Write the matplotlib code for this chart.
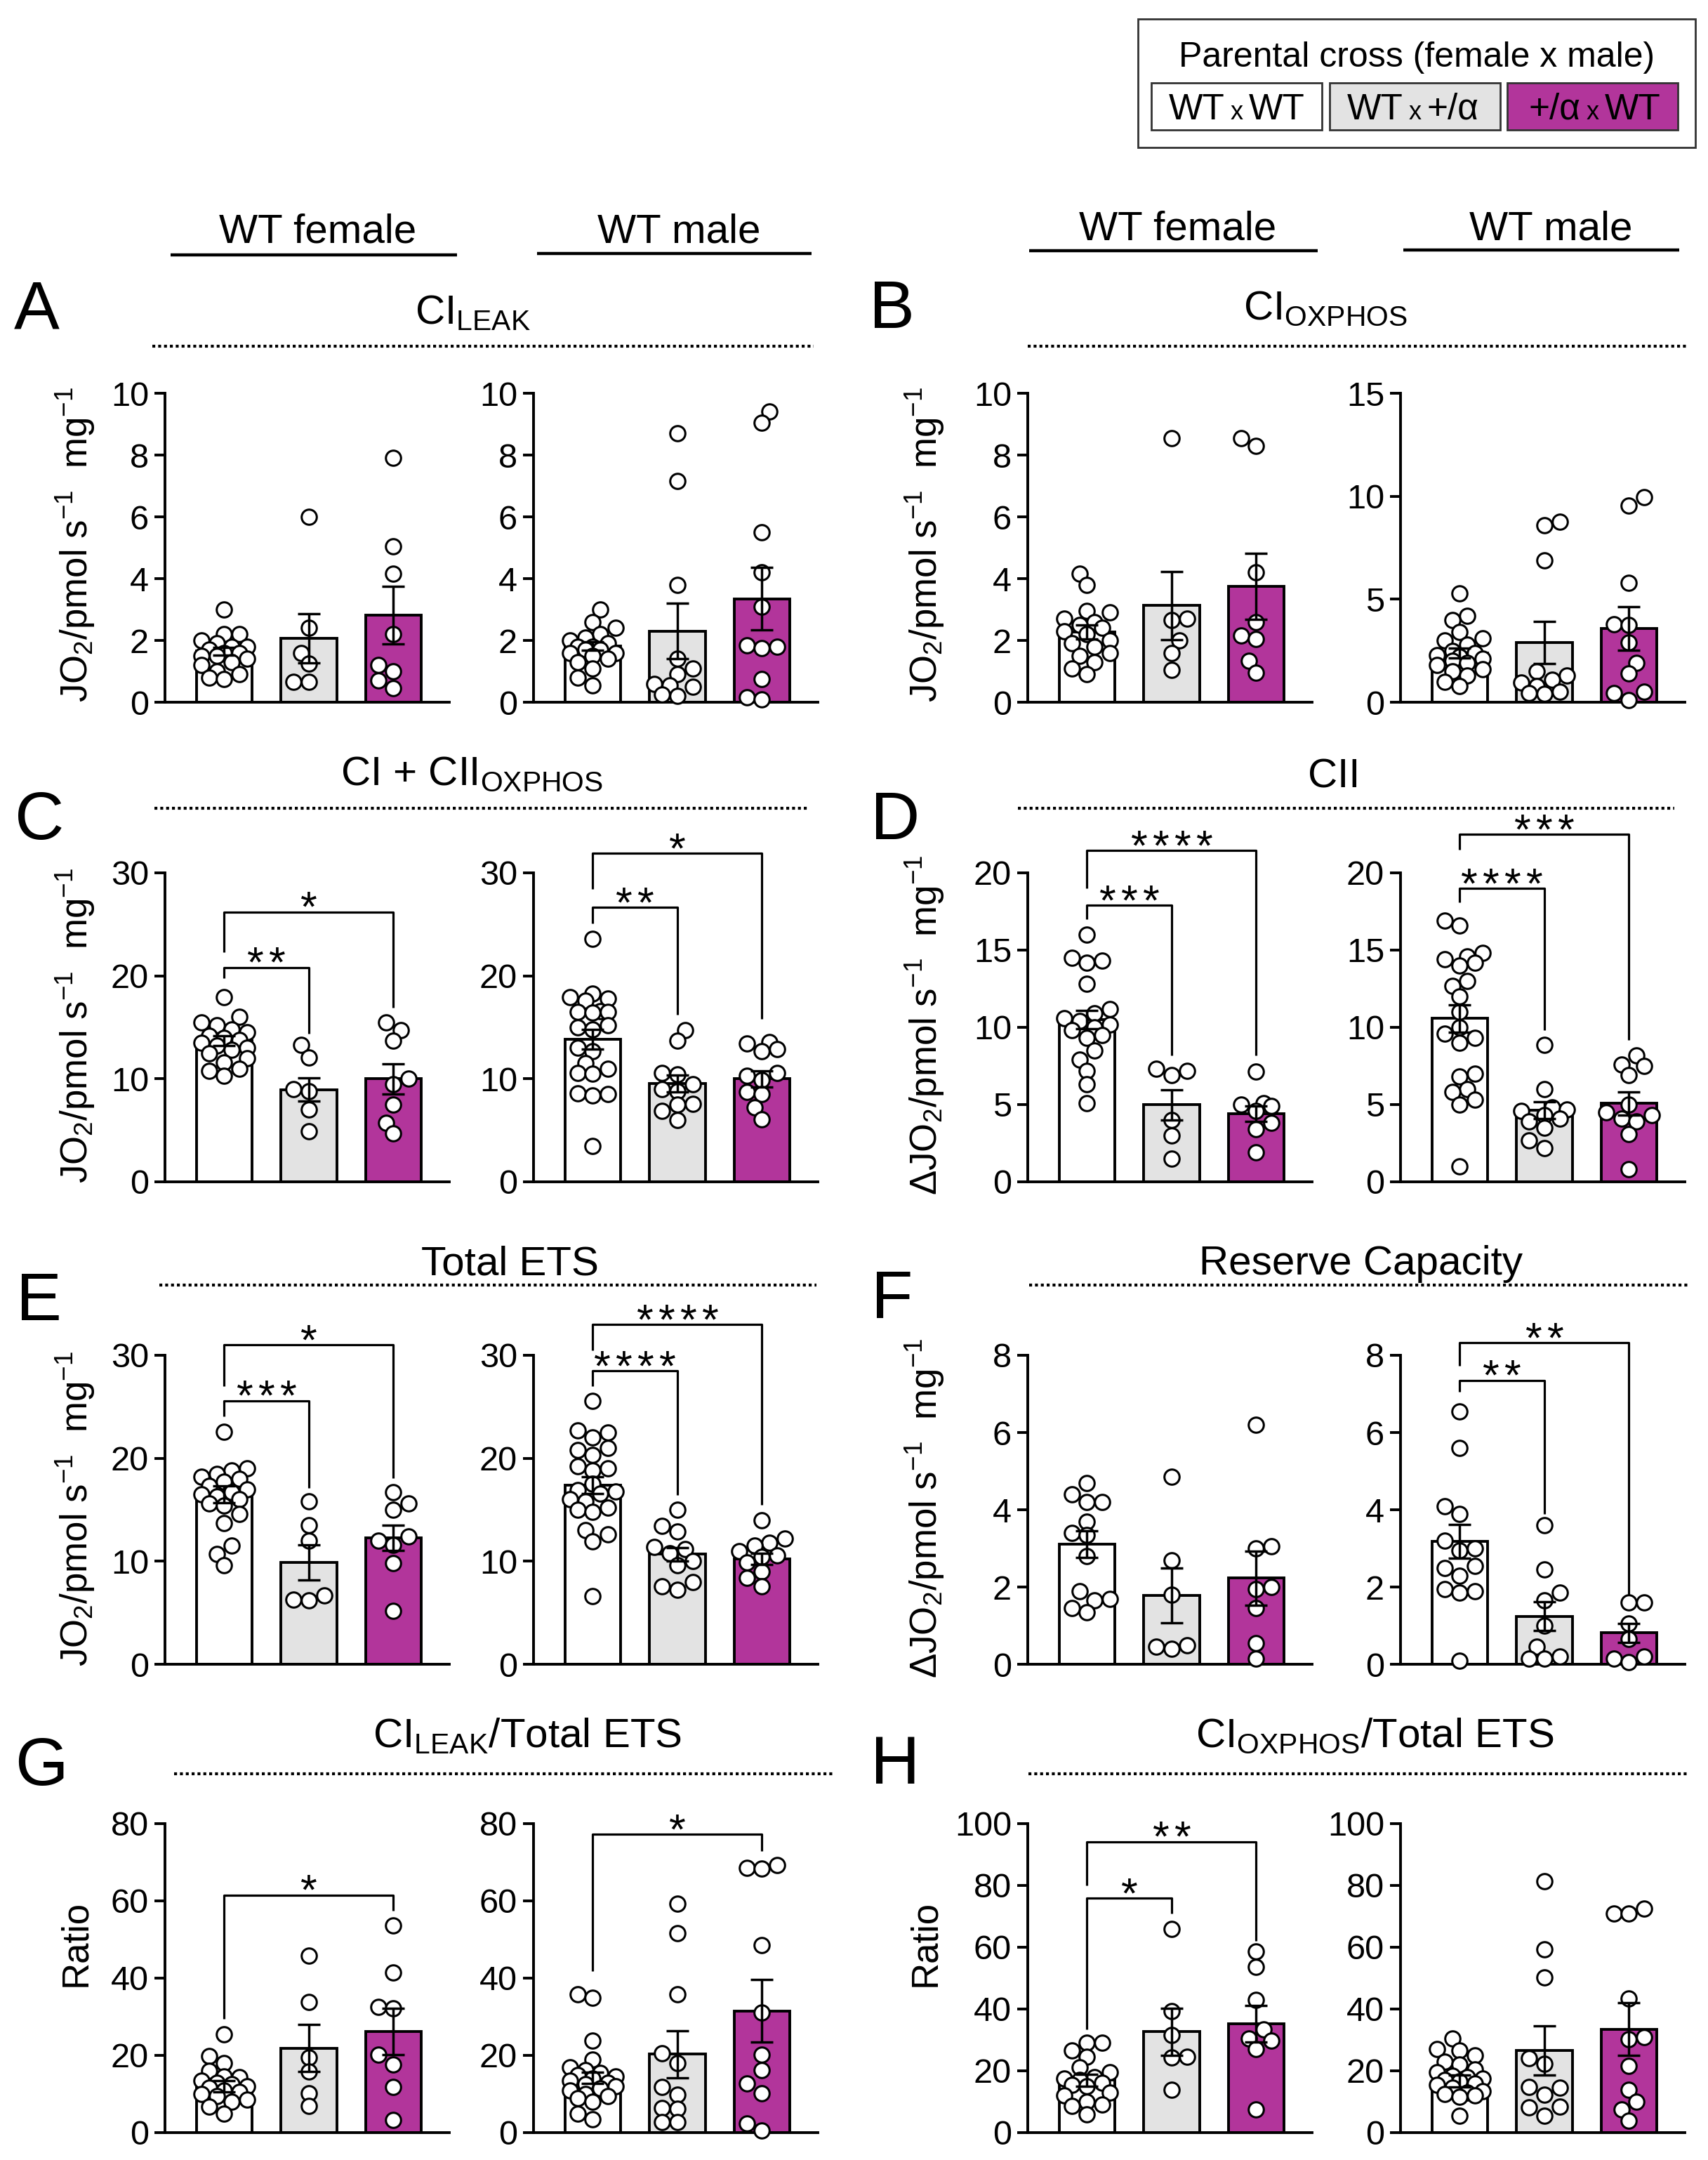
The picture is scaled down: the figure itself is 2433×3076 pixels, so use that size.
import numpy as np
import matplotlib
matplotlib.use('Agg')
import matplotlib.pyplot as plt
from matplotlib.patches import Rectangle

plt.rcParams['font.family'] = ['Liberation Sans', 'DejaVu Sans']
plt.rcParams['mathtext.fontset'] = 'custom'
plt.rcParams['mathtext.rm'] = 'Liberation Sans'
plt.rcParams['mathtext.it'] = 'Liberation Sans:italic'
plt.rcParams['mathtext.bf'] = 'Liberation Sans:bold'

# ------------------------------------------------------------------ data
groups = ['WT x WT', 'WT x +/α', '+/α x WT']
group_colors = ['#FFFFFF', '#E3E3E3', '#B2359B']
sexes = ['WT female', 'WT male']

A_female_points = [
    [3.0, 2.2, 2.2, 2.0, 1.9, 1.8, 1.8, 1.7, 1.6, 1.6, 1.5, 1.5, 1.4, 1.3, 1.2, 1.0, 0.9, 0.8, 0.75],
    [6.0, 2.4, 1.6, 1.25, 0.65, 0.65],
    [7.9, 5.05, 4.15, 2.2, 1.2, 1.0, 0.7, 0.45]]
A_female_mean = [1.65, 2.07, 2.81]
A_female_sem = [0.12, 0.8, 0.93]
A_male_points = [
    [3.0, 2.6, 2.4, 2.2, 2.1, 2.0, 1.9, 1.8, 1.8, 1.7, 1.7, 1.6, 1.6, 1.5, 1.4, 1.3, 1.1, 0.8, 0.55],
    [8.7, 7.15, 3.8, 1.4, 1.1, 0.9, 0.6, 0.55, 0.5, 0.25, 0.2],
    [9.4, 9.05, 5.5, 4.2, 3.1, 1.85, 1.8, 1.75, 0.75, 0.15, 0.1]]
A_male_mean = [1.82, 2.3, 3.35]
A_male_sem = [0.14, 0.9, 1.02]

B_female_points = [
    [4.15, 3.8, 2.95, 2.9, 2.7, 2.6, 2.5, 2.4, 2.3, 2.2, 2.0, 1.9, 1.8, 1.6, 1.5, 1.3, 1.1, 0.9],
    [8.55, 2.7, 2.65, 2.0, 1.6, 1.05],
    [8.55, 8.3, 4.2, 2.6, 2.15, 2.05, 1.35, 0.95]]
B_female_mean = [2.27, 3.13, 3.75]
B_female_sem = [0.22, 1.1, 1.06]
B_male_points = [
    [5.3, 4.2, 4.0, 3.4, 3.1, 3.0, 2.8, 2.5, 2.4, 2.3, 2.2, 2.1, 2.0, 1.9, 1.8, 1.6, 1.5, 1.3, 1.0, 0.8],
    [8.75, 8.6, 6.9, 1.5, 1.3, 1.1, 0.95, 0.8, 0.5, 0.45, 0.4],
    [9.95, 9.55, 5.8, 3.8, 3.75, 2.9, 1.9, 1.4, 0.5, 0.45, 0.1]]
B_male_mean = [2.39, 2.9, 3.58]
B_male_sem = [0.25, 1.02, 1.05]

C_female_points = [
    [17.9, 16.0, 15.5, 15.2, 14.8, 14.5, 14.2, 14.0, 13.8, 13.5, 13.2, 13.0, 12.8, 12.5, 12.0, 11.6, 11.0, 10.8, 10.3],
    [13.3, 12.1, 9.0, 8.8, 7.0, 4.9],
    [15.5, 14.7, 13.7, 10.0, 9.5, 7.5, 5.7, 4.7]]
C_female_mean = [13.7, 8.95, 9.99]
C_female_sem = [0.5, 1.14, 1.48]
C_male_points = [
    [23.6, 18.3, 17.9, 17.8, 17.6, 16.6, 16.5, 16.5, 16.4, 15.2, 15.0, 14.8, 13.0, 12.7, 11.5, 11.0, 10.6, 10.5, 8.6, 8.5, 8.4, 3.5],
    [14.7, 13.7, 10.6, 10.4, 9.5, 9.0, 8.8, 7.6, 7.5, 6.9, 6.0],
    [13.6, 13.4, 12.9, 12.7, 10.6, 10.3, 9.9, 8.7, 8.5, 7.2, 6.1]]
C_male_mean = [13.85, 9.55, 10.0]
C_male_sem = [0.95, 0.8, 0.8]

D_female_points = [
    [16.0, 14.5, 14.3, 14.2, 12.8, 11.2, 10.9, 10.6, 10.4, 10.2, 10.0, 9.8, 9.5, 9.3, 8.5, 7.9, 7.2, 6.3, 5.1],
    [7.3, 7.2, 6.9, 4.0, 3.0, 1.5],
    [7.15, 5.1, 5.0, 4.9, 4.6, 3.8, 3.4, 1.9]]
D_female_mean = [10.5, 4.98, 4.39]
D_female_sem = [0.6, 0.99, 0.5]
D_male_points = [
    [16.9, 16.6, 14.8, 14.6, 14.4, 14.2, 14.0, 13.0, 12.7, 12.0, 11.0, 10.0, 9.6, 9.3, 9.0, 7.0, 6.8, 6.0, 5.8, 5.3, 5.0, 1.0],
    [8.85, 6.0, 4.8, 4.7, 4.6, 4.3, 4.1, 3.9, 3.5, 2.7, 2.2],
    [8.2, 7.6, 7.5, 6.9, 5.0, 4.5, 4.3, 4.1, 3.9, 3.1, 0.8]]
D_male_mean = [10.57, 4.64, 5.08]
D_male_sem = [0.9, 0.55, 0.74]

E_female_points = [
    [22.6, 19.0, 18.8, 18.5, 18.2, 18.0, 17.7, 17.3, 17.0, 16.7, 16.5, 16.3, 16.0, 15.6, 15.4, 14.6, 13.7, 11.5, 10.7, 9.6],
    [15.8, 13.5, 12.0, 6.7, 6.2, 6.3],
    [16.7, 15.6, 15.0, 12.4, 12.0, 11.6, 9.8, 5.2]]
E_female_mean = [16.5, 9.9, 12.27]
E_female_sem = [0.8, 1.7, 1.25]
E_male_points = [
    [25.6, 22.7, 22.5, 22.0, 21.0, 20.8, 20.3, 19.2, 19.0, 18.8, 17.5, 16.9, 16.8, 16.6, 16.0, 15.8, 15.2, 15.0, 14.8, 13.0, 12.6, 11.9, 6.6],
    [15.0, 13.4, 12.9, 11.4, 11.2, 10.8, 10.0, 9.6, 8.0, 7.6, 7.2],
    [14.0, 12.2, 11.8, 11.5, 11.0, 10.6, 10.4, 9.9, 9.0, 8.4, 7.6]]
E_male_mean = [17.4, 10.7, 10.2]
E_male_sem = [0.82, 0.65, 0.55]

F_female_points = [
    [4.7, 4.4, 4.2, 4.2, 3.7, 3.4, 3.35, 2.8, 1.9, 1.7, 1.65, 1.45, 1.35],
    [4.85, 2.7, 1.8, 0.5, 0.45, 0.4],
    [6.2, 3.05, 3.0, 2.0, 1.95, 1.45, 0.55, 0.15]]
F_female_mean = [3.11, 1.79, 2.23]
F_female_sem = [0.35, 0.71, 0.7]
F_male_points = [
    [6.55, 5.6, 4.1, 3.9, 3.2, 3.0, 2.95, 2.55, 2.5, 2.3, 1.95, 1.9, 1.85, 0.1],
    [3.6, 2.45, 1.85, 1.65, 1.0, 0.45, 0.2, 0.15, 0.15],
    [1.6, 1.6, 1.05, 0.65, 0.2, 0.15, 0.05]]
F_male_mean = [3.18, 1.24, 0.81]
F_male_sem = [0.43, 0.37, 0.25]

G_female_points = [
    [25.5, 19.8, 18.0, 16.0, 14.6, 14.3, 13.5, 13.0, 12.5, 12.0, 11.6, 11.0, 10.5, 10.0, 9.5, 8.5, 8.0, 6.7, 5.0],
    [45.9, 33.9, 19.5, 15.8, 10.2, 6.9],
    [53.6, 41.4, 32.5, 32.2, 20.1, 17.7, 11.8, 3.2]]
G_female_mean = [11.98, 21.9, 26.2]
G_female_sem = [1.5, 6.1, 6.0]
G_male_points = [
    [35.9, 35.0, 23.8, 18.9, 17.0, 16.2, 15.5, 15.0, 14.5, 14.0, 13.5, 13.0, 12.5, 12.0, 11.5, 11.0, 10.0, 9.5, 9.0, 8.0, 5.0, 3.5],
    [59.3, 51.6, 35.9, 20.5, 18.0, 11.8, 9.8, 6.3, 6.2, 2.8, 2.7],
    [69.2, 68.5, 68.3, 48.5, 31.1, 20.1, 16.2, 12.7, 10.2, 2.4, 0.6]]
G_male_mean = [14.2, 20.3, 31.5]
G_male_sem = [1.5, 6.1, 8.1]

H_female_points = [
    [29.2, 29.0, 26.6, 24.6, 21.2, 19.5, 18.0, 17.6, 17.0, 16.2, 15.5, 15.0, 13.0, 12.0, 10.0, 9.0, 8.7, 5.9],
    [66.0, 39.4, 31.7, 24.5, 24.3, 13.8],
    [58.6, 53.7, 42.9, 33.5, 30.5, 29.8, 27.1, 7.4]]
H_female_mean = [16.95, 32.7, 35.2]
H_female_sem = [1.9, 7.6, 5.9]
H_male_points = [
    [30.5, 27.0, 26.5, 25.0, 23.0, 22.0, 20.5, 19.5, 18.5, 18.0, 17.5, 17.0, 16.5, 16.0, 15.5, 14.5, 13.5, 13.0, 12.5, 12.0, 11.5, 5.5],
    [81.3, 59.3, 50.2, 24.1, 22.2, 14.8, 14.6, 12.3, 8.4, 8.2, 5.4],
    [72.4, 71.0, 70.8, 43.3, 30.8, 30.2, 21.7, 13.8, 9.9, 7.4, 3.9]]
H_male_mean = [16.7, 26.6, 33.5]
H_male_sem = [1.9, 7.9, 8.5]

# y tick labels
A_ticks = [0, 2, 4, 6, 8, 10]
B_female_ticks = [0, 2, 4, 6, 8, 10]
B_male_ticks = [0, 5, 10, 15]
C_ticks = [0, 10, 20, 30]
D_ticks = [0, 5, 10, 15, 20]
E_ticks = [0, 10, 20, 30]
F_ticks = [0, 2, 4, 6, 8]
G_ticks = [0, 20, 40, 60, 80]
H_ticks = [0, 20, 40, 60, 80, 100]

# significance brackets: (group i, group j, bar height, leg end i, leg end j, label)
C_female_sig = [(0, 1, 20.8, 19.8, 14.4, '**'), (0, 2, 26.2, 22.3, 16.9, '*')]
C_male_sig = [(0, 1, 26.65, 25.1, 16.2, '**'), (0, 2, 31.9, 28.4, 15.8, '*')]
D_female_sig = [(0, 1, 17.9, 17.0, 8.2, '***'), (0, 2, 21.45, 19.0, 8.2, '****')]
D_male_sig = [(0, 1, 19.0, 18.1, 9.8, '****'), (0, 2, 22.5, 21.5, 9.2, '***')]
E_female_sig = [(0, 1, 25.6, 24.1, 17.1, '***'), (0, 2, 31.0, 27.0, 18.1, '*')]
E_male_sig = [(0, 1, 28.5, 27.0, 16.4, '****'), (0, 2, 33.0, 30.5, 15.5, '****')]
F_male_sig = [(0, 1, 7.35, 7.05, 3.9, '**'), (0, 2, 8.32, 7.72, 1.8, '**')]
G_female_sig = [(0, 2, 61.5, 29.5, 57.5, '*')]
G_male_sig = [(0, 2, 77.2, 41.8, 72.9, '*')]
H_female_sig = [(0, 1, 75.9, 33.5, 71.0, '*'), (0, 2, 94.1, 80.0, 62.1, '**')]

JO2 = r'JO$_{\mathregular{2}}$/pmol s$^{\mathregular{-1}}$  mg$^{\mathregular{-1}}$'
DJO2 = r'ΔJO$_{\mathregular{2}}$/pmol s$^{\mathregular{-1}}$  mg$^{\mathregular{-1}}$'
RATIO = 'Ratio'

panel_titles = {
    'A': r'CI$_{\mathregular{LEAK}}$',
    'B': r'CI$_{\mathregular{OXPHOS}}$',
    'C': r'CI + CII$_{\mathregular{OXPHOS}}$',
    'D': 'CII',
    'E': 'Total ETS',
    'F': 'Reserve Capacity',
    'G': r'CI$_{\mathregular{LEAK}}$/Total ETS',
    'H': r'CI$_{\mathregular{OXPHOS}}$/Total ETS',
}

panels = [
    ('A', 0, 0, JO2, [(A_female_points, A_female_mean, A_female_sem, A_ticks, []),
                      (A_male_points, A_male_mean, A_male_sem, A_ticks, [])]),
    ('B', 0, 1, JO2, [(B_female_points, B_female_mean, B_female_sem, B_female_ticks, []),
                      (B_male_points, B_male_mean, B_male_sem, B_male_ticks, [])]),
    ('C', 1, 0, JO2, [(C_female_points, C_female_mean, C_female_sem, C_ticks, C_female_sig),
                      (C_male_points, C_male_mean, C_male_sem, C_ticks, C_male_sig)]),
    ('D', 1, 1, DJO2, [(D_female_points, D_female_mean, D_female_sem, D_ticks, D_female_sig),
                       (D_male_points, D_male_mean, D_male_sem, D_ticks, D_male_sig)]),
    ('E', 2, 0, JO2, [(E_female_points, E_female_mean, E_female_sem, E_ticks, E_female_sig),
                      (E_male_points, E_male_mean, E_male_sem, E_ticks, E_male_sig)]),
    ('F', 2, 1, DJO2, [(F_female_points, F_female_mean, F_female_sem, F_ticks, []),
                       (F_male_points, F_male_mean, F_male_sem, F_ticks, F_male_sig)]),
    ('G', 3, 0, RATIO, [(G_female_points, G_female_mean, G_female_sem, G_ticks, G_female_sig),
                        (G_male_points, G_male_mean, G_male_sem, G_ticks, G_male_sig)]),
    ('H', 3, 1, RATIO, [(H_female_points, H_female_mean, H_female_sem, H_ticks, H_female_sig),
                        (H_male_points, H_male_mean, H_male_sem, H_ticks, [])]),
]

# ------------------------------------------------------------------ layout (pixels)
W, H = 2433, 3076
AX_W, AX_H = 405, 440
XLIM = (-0.70, 2.66)
spine_x = [(235, 760), (1464, 1995)]
row_bottom = [1000, 1683, 2370, 3037]
ylabel_x = [108, 1318]
ylabel_y = [775, 1460, 2148, 2767]
letter_pos = {'A': (52, 468), 'B': (1270, 467), 'C': (56, 1195), 'D': (1275, 1195),
              'E': (55, 1880), 'F': (1271, 1877), 'G': (59, 2542), 'H': (1275, 2540)}
title_pos = {'A': (673, 461), 'B': (1888, 455), 'C': (672, 1118), 'D': (1900, 1122),
             'E': (726, 1815), 'F': (1939, 1815), 'G': (751, 2488), 'H': (1958, 2488)}
dotted = {'A': (217, 1159, 493), 'B': (1464, 2405, 493), 'C': (220, 1152, 1151),
          'D': (1450, 2385, 1151), 'E': (227, 1163, 1830), 'F': (1466, 2404, 1830),
          'G': (248, 1189, 2526), 'H': (1465, 2405, 2526)}
header_text = [(453, 345), (967, 345), (1678, 341), (2209, 341)]
header_line = [(243, 651, 363), (765, 1156, 361), (1466, 1877, 357), (1999, 2392, 356)]

LW = 2.8
fig = plt.figure(figsize=(W / 100, H / 100), dpi=100)
ov = fig.add_axes([0, 0, 1, 1])
ov.set_xlim(0, W)
ov.set_ylim(H, 0)
ov.axis('off')


def swarm(vals, ypu, xpu, d=23.0, max_off=36.0):
    """Spread points sideways (pixel units) so they overlap little, within the bar."""
    vals = np.asarray(vals, float)
    order = np.argsort(vals)
    px, py = [], []
    offs = np.zeros(len(vals))
    step = 0.47 * d
    cand_all = [0.0]
    k = 1
    while k * step <= max_off + 1e-9:
        cand_all += [k * step, -k * step]
        k += 1
    for n, i in enumerate(order):
        y = vals[i] * ypu
        cands = list(cand_all)
        if n % 2:
            cands = [cands[0]] + [c for pair in zip(cands[2::2], cands[1::2]) for c in pair]
        best, best_d = None, -1.0
        for c in cands:
            dmin = min([np.hypot(c - a, y - b) for a, b in zip(px, py)] or [1e9])
            if dmin >= 0.78 * d:
                best = c
                break
            if dmin > best_d:
                best, best_d = c, dmin
        px.append(best)
        py.append(y)
        offs[i] = best / xpu
    return offs


def draw_sub(ax, pts, mean, sem, ticks, sig):
    x = np.arange(len(groups))
    ax.bar(x, mean, width=0.66, color=group_colors, edgecolor='black', linewidth=LW, zorder=2)
    ymax = ticks[-1]
    ypu = AX_H / ymax
    xpu = AX_W / (XLIM[1] - XLIM[0])
    for i, g in enumerate(pts):
        off = swarm(g, ypu, xpu)
        ax.plot(i + off, g, linestyle='none', marker='o', ms=15.5, mfc='white', mec='black',
                mew=2.2, zorder=3, clip_on=False)
    ax.errorbar(x, mean, yerr=sem, fmt='none', ecolor='black', elinewidth=2.5,
                capsize=11.5, capthick=2.5, zorder=4)
    ax.set_xlim(*XLIM)
    ax.set_ylim(0, ymax)
    ax.set_yticks(ticks)
    ax.set_xticks([])
    for s in ['top', 'right']:
        ax.spines[s].set_visible(False)
    for s in ['left', 'bottom']:
        ax.spines[s].set_linewidth(LW)
    ax.tick_params(axis='y', direction='out', length=10.5, width=LW, labelsize=35, pad=6)
    ax.patch.set_alpha(0)
    for (i, j, yl, yi, yj, lab) in sig:
        ax.plot([i, i, j, j], [yi, yl, yl, yj], color='black', lw=2.3, clip_on=False,
                zorder=5, solid_capstyle='butt')
        xc = (i + j) / 2
        n = len(lab)
        for k in range(n):
            dx = (k - (n - 1) / 2) * 31
            ax.annotate('*', xy=(xc, yl), xytext=(dx, -13), textcoords='offset pixels',
                        ha='center', va='baseline', fontsize=44, annotation_clip=False)


for letter, row, col, ylab, subs in panels:
    for s, (pts, mean, sem, ticks, sig) in enumerate(subs):
        xs = spine_x[col][s]
        yb = row_bottom[row]
        ax = fig.add_axes([xs / W, 1 - yb / H, AX_W / W, AX_H / H])
        draw_sub(ax, pts, mean, sem, ticks, sig)
    ov.text(ylabel_x[col], ylabel_y[row], ylab, rotation=90, ha='center', va='center', fontsize=38)
    lx, ly = letter_pos[letter]
    ov.text(lx, ly, letter, ha='center', va='baseline', fontsize=70)
    tx, ty = title_pos[letter]
    ov.text(tx, ty, panel_titles[letter], ha='center', va='baseline', fontsize=42)
    x0, x1, yd = dotted[letter]
    ov.plot([x0, x1], [yd, yd], color='black', lw=3.0, linestyle=(0, (1, 1)))

# column headers
for (hx, hy), (l0, l1, ly), lab in zip(header_text, header_line, sexes * 2):
    ov.text(hx, hy, lab, ha='center', va='baseline', fontsize=42)
    ov.plot([l0, l1], [ly, ly], color='black', lw=3.2, solid_capstyle='butt')

# legend box
ov.add_patch(Rectangle((1621, 27), 794, 183, facecolor='white', edgecolor='#333333', lw=2.0))
ov.text(2018, 95, 'Parental cross (female x male)', ha='center', va='baseline', fontsize=36)
box_x = [1640, 1894, 2147]
for bx, g, c in zip(box_x, groups, group_colors):
    ov.add_patch(Rectangle((bx, 118), 243, 67, facecolor=c, edgecolor='#333333', lw=2.0))
    left, right = g.split(' x ')
    cx = bx + 121.5
    ov.text(cx - 17, 170, left, ha='right', va='baseline', fontsize=37)
    ov.text(cx, 170, 'x', ha='center', va='baseline', fontsize=26)
    ov.text(cx + 17, 170, right, ha='left', va='baseline', fontsize=37)

fig.savefig('out.png', dpi=100)
